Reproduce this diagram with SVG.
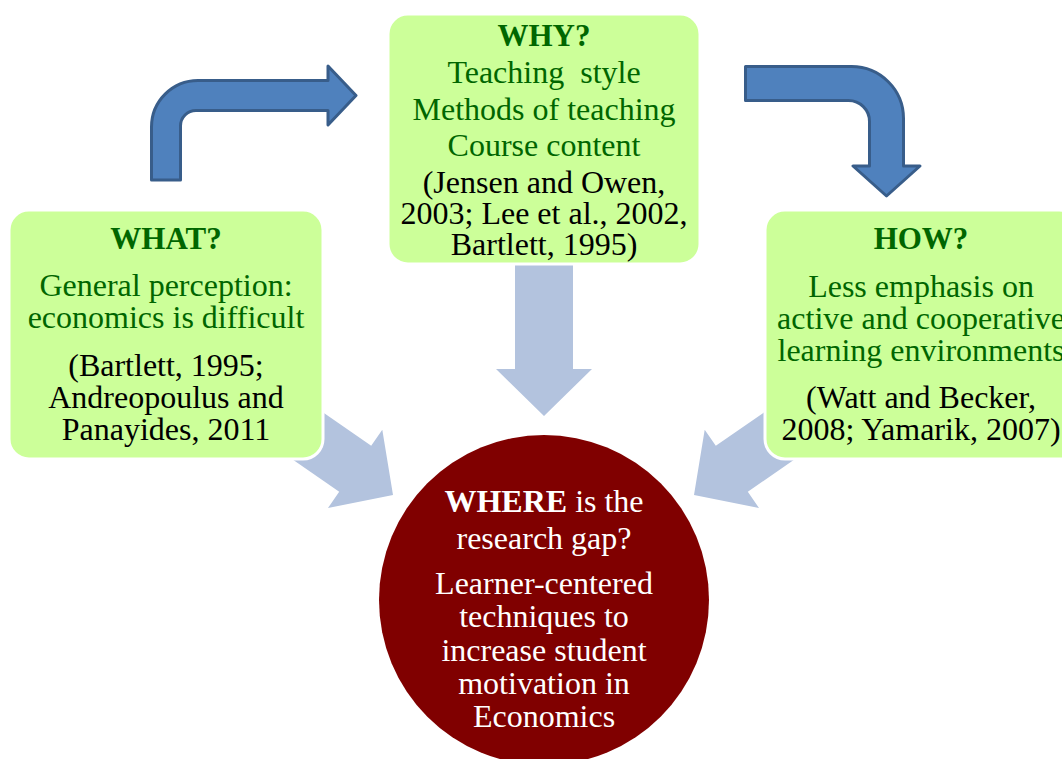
<svg xmlns="http://www.w3.org/2000/svg" width="1062" height="759" viewBox="0 0 1062 759">
  <style>
    .box { fill: #ccff99; stroke: #ffffff; stroke-width: 3; }
    .flow { fill: #b3c3de; }
    .bent { fill: #4f81bd; stroke: #385d8a; stroke-width: 3; stroke-linejoin: round; }
    text { font-family: "Liberation Serif", "Times New Roman", serif; font-size: 32px; text-anchor: middle; }
    .head { font-weight: bold; font-size: 31px; fill: #006600; }
    .green { fill: #006600; }
    .ref { fill: #000000; }
    .white { fill: #ffffff; }
  </style>

  <rect width="1062" height="759" fill="#ffffff"/>

  <!-- connectors: pale block arrows into the centre, blue bent arrows along the top -->
  <g id="connectors">
    <polygon class="flow" points="393,495 328,508 339.2,491.8 265.2,440.5 297.2,394.5 371.2,445.8 382.3,429.8"/>
    <polygon class="flow" points="694,495 759,508 747.8,491.8 821.8,440.5 789.8,394.5 715.8,445.8 704.7,429.8"/>
    <polygon class="flow" points="515,262 573,262 573,369 592,369 544,416 496,369 515,369"/>
    <path class="bent" d="M151.5,180 L151.5,127 A46.5,46.5 0 0 1 198,80.5 L328,80.5 L328,66 L356,95.5 L328,125 L328,110.5 L196,110.5 A15.5,15.5 0 0 0 180.5,126 L180.5,180 Z"/>
    <path class="bent" d="M745.5,66.5 L851.5,66.5 A52,52 0 0 1 903.5,118.5 L903.5,166 L920,166 L886.5,196 L853,166 L869.5,166 L869.5,121.5 A21,21 0 0 0 848.5,100.5 L745.5,100.5 Z"/>
  </g>

  <g id="why">
    <rect class="box" x="388" y="14" width="312" height="250" rx="20" ry="20"/>
    <text class="head" x="544" y="46">WHY?</text>
    <text class="green" x="544" y="83">Teaching&#160; style</text>
    <text class="green" x="544" y="120">Methods of teaching</text>
    <text class="green" x="544" y="156">Course content</text>
    <text class="ref" x="544" y="193">(Jensen and Owen,</text>
    <text class="ref" x="544" y="224">2003; Lee et al., 2002,</text>
    <text class="ref" x="544" y="255">Bartlett, 1995)</text>
  </g>

  <g id="what">
    <rect class="box" x="9" y="210" width="314" height="249" rx="20" ry="20"/>
    <text class="head" x="166" y="249">WHAT?</text>
    <text class="green" x="166" y="296">General perception:</text>
    <text class="green" x="166" y="328">economics is difficult</text>
    <text class="ref" x="166" y="376">(Bartlett, 1995;</text>
    <text class="ref" x="166" y="408">Andreopoulus and</text>
    <text class="ref" x="166" y="440">Panayides, 2011</text>
  </g>

  <g id="how">
    <rect class="box" x="765" y="210" width="314" height="249" rx="20" ry="20"/>
    <text class="head" x="921" y="249">HOW?</text>
    <text class="green" x="921" y="297">Less emphasis on</text>
    <text class="green" x="921" y="329">active and cooperative</text>
    <text class="green" x="921" y="361">learning environments</text>
    <text class="ref" x="921" y="408">(Watt and Becker,</text>
    <text class="ref" x="921" y="440">2008; Yamarik, 2007)</text>
  </g>

  <g id="where">
    <circle cx="544" cy="600" r="165" fill="#800000"/>
    <text class="white" x="544" y="512"><tspan font-weight="bold">WHERE</tspan> is the</text>
    <text class="white" x="544" y="549">research gap?</text>
    <text class="white" x="544" y="594">Learner-centered</text>
    <text class="white" x="544" y="627">techniques to</text>
    <text class="white" x="544" y="661">increase student</text>
    <text class="white" x="544" y="694">motivation in</text>
    <text class="white" x="544" y="727">Economics</text>
  </g>
</svg>
